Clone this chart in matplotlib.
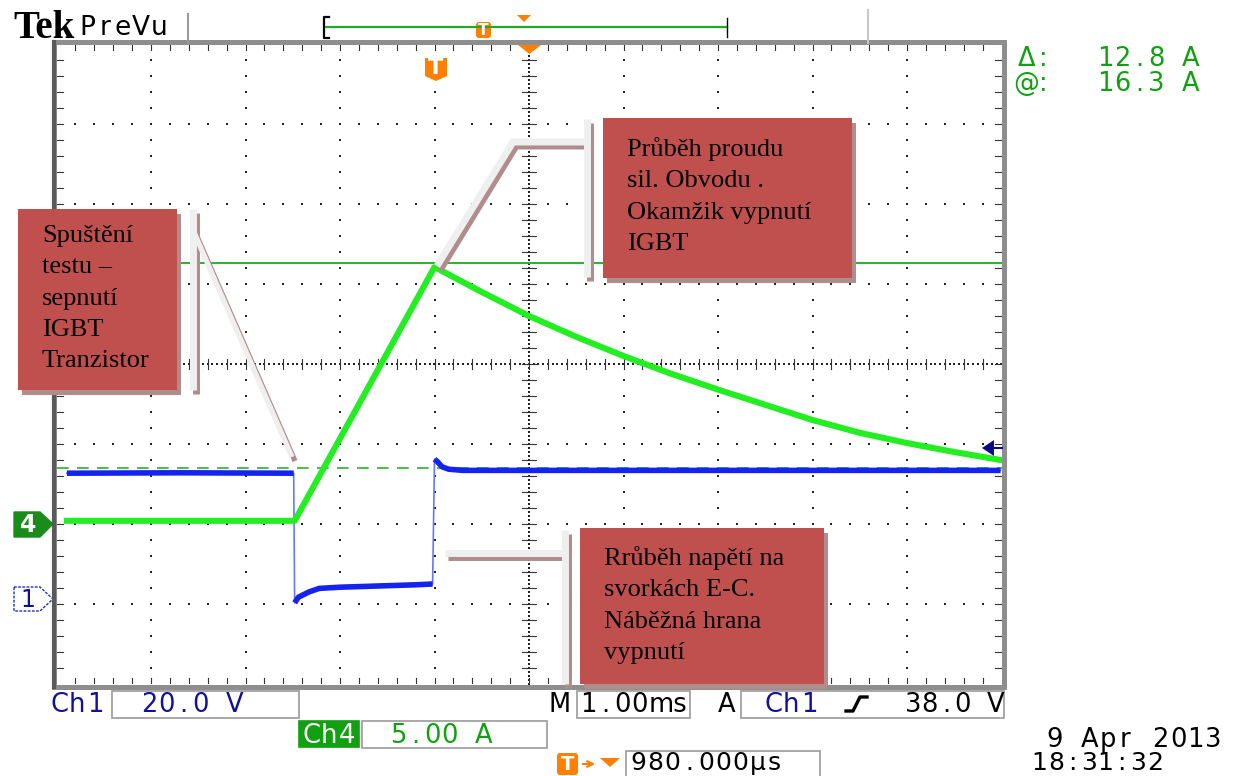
import numpy as np
import matplotlib.pyplot as plt
from matplotlib.patches import Rectangle, Polygon, FancyBboxPatch

W, H = 1242, 776

# scope settings (readouts at the bottom)
ch1_v_div = 20.0      # V/div
ch4_a_div = 5.00      # A/div
time_div = 1.00       # ms/div
ch1_gnd = -2.95       # div, Ch1 ground marker
ch4_gnd = -2.0        # div, Ch4 ground marker
trig_level = 38.0     # V on Ch1
cur_at = 16.3         # A, cursor readout "@"
cur_delta = 12.8      # A, cursor readout "delta"

# Ch1 - U_CE [V] vs t [ms], trigger at t = 0
u_off_t = [-3.89, -2.7, -1.49]
u_off_v = [31.7, 31.8, 31.7]
u_on_t = [-1.48, -1.44, -1.33, -1.22, -1.0, -0.6, -0.2, -0.02]
u_on_v = [-0.7, 0.7, 2.0, 2.9, 3.2, 3.5, 3.8, 4.0]
u_rec_t = [0.0, 0.03, 0.08, 0.15, 0.3, 1.5, 4.0, 5.99]
u_rec_v = [35.2, 34.6, 33.3, 32.7, 32.4, 32.4, 32.4, 32.4]

# Ch4 - I_C [A]
i_t = [-3.89, -2.5, -1.48, 0.0, 0.5, 1.0, 1.5, 2.0, 2.5, 3.0, 3.5, 4.0, 4.5, 5.0, 5.5, 5.99]
i_a = [0.2, 0.2, 0.2, 16.06, 14.5, 13.0, 11.7, 10.5, 9.4, 8.4, 7.45, 6.5, 5.7, 5.06, 4.5, 4.0]


def ch1(v):
    return np.asarray(v) / ch1_v_div + ch1_gnd


def ch4(a):
    return np.asarray(a) / ch4_a_div + ch4_gnd


fig = plt.figure(figsize=(W / 100, H / 100), dpi=100)
fig.patch.set_facecolor('white')

# graticule area: 10 x 8 divisions
ax = fig.add_axes([56.5 / W, (H - 684) / H, 945 / W, 640 / H])
ax.set_xlim(-4 * time_div, 6 * time_div)
ax.set_ylim(-4, 4)
ax.axis('off')

# graticule dots
gx, gy = [], []
steps_x = np.arange(-4, 6.001, 0.2)
steps_y = np.arange(-4, 4.001, 0.2)
for row in [-3, -2, -1, 1, 2, 3]:
    gx += list(steps_x[1:-1]); gy += [row] * (len(steps_x) - 2)
for col in [-3, -2, -1, 0, 2, 3, 4, 5]:
    gx += [col] * (len(steps_y) - 2); gy += list(steps_y[1:-1])
# centre cross, finer
fine_x = np.arange(-4, 6.001, 0.05)
fine_y = np.arange(-4, 4.001, 0.05)
gx += list(fine_x); gy += [0] * len(fine_x)
gx += [1] * len(fine_y); gy += list(fine_y)
ax.scatter(gx, gy, s=1.6, marker='s', color='#222222', lw=0, zorder=1)
# minor ticks on the centre cross and along the edges
for x in steps_x[1:-1]:
    ax.plot([x, x], [-0.06, 0.06], color='#333333', lw=0.8, zorder=1)
    ax.plot([x, x], [3.93, 4.0], color='#333333', lw=0.8, zorder=1)
    ax.plot([x, x], [-4.0, -3.93], color='#333333', lw=0.8, zorder=1)
for y in steps_y[1:-1]:
    ax.plot([0.93, 1.07], [y, y], color='#333333', lw=0.8, zorder=1)
    ax.plot([-4.0, -3.93], [y, y], color='#333333', lw=0.8, zorder=1)
    ax.plot([5.93, 6.0], [y, y], color='#333333', lw=0.8, zorder=1)

# cursors on Ch4
ax.axhline(ch4(cur_at), color='#2DB02D', lw=1.4, zorder=2)
ax.axhline(ch4(cur_at - cur_delta), color='#2DB02D', lw=1.2, ls=(0, (7, 5)), zorder=2)

# Ch1 trace - edges drawn faint, flat parts thick
all_t = u_off_t + u_on_t + u_rec_t
all_v = u_off_v + u_on_v + u_rec_v
ax.plot(all_t, ch1(all_v), color='#6677FF', lw=1.2, zorder=3)
for tt, vv in [(u_off_t, u_off_v), (u_on_t, u_on_v), (u_rec_t, u_rec_v)]:
    ax.plot(tt, ch1(vv), color='#1424EE', lw=4.0, solid_capstyle='butt', zorder=3)

# Ch4 trace
ax.plot(i_t, ch4(i_a), color='#22EE22', lw=4.4, solid_joinstyle='round', zorder=4)

# overlay in pixel coordinates for the scope chrome and call-outs
ov = fig.add_axes([0, 0, 1, 1], zorder=5)
ov.set_xlim(0, W)
ov.set_ylim(H, 0)
ov.axis('off')

# frame round the graticule
ov.add_patch(Rectangle((53.5, 41.5), 950.5, 645, fill=False, ec='#8E8E8E', lw=3.6))
ov.plot([53.5, 53.5], [41.5, 686.5], color='#5A5A5A', lw=3.0)


def scope_text(x, y, s, color='black', pitch=17.5, size=18.5, weight='normal'):
    for i, ch in enumerate(s):
        ov.text(x + (i + 0.5) * pitch, y, ch, color=color, fontsize=size,
                ha='center', va='baseline', family='DejaVu Sans', weight=weight)


# header
ov.text(13, 38, 'Tek', family='Liberation Serif', weight='bold', fontsize=28,
        va='baseline', ha='left', color='black')
scope_text(78, 35, 'PreVu', pitch=18, size=19)
ov.plot([188, 188], [14, 43], color='#9A9A9A', lw=1.5)
ov.plot([868, 868], [10, 43], color='#C8C8C8', lw=1.5)
ov.plot([329, 324, 324, 329], [17, 17, 38, 38], color='black', lw=1.6)
ov.plot([326, 727], [27, 27], color='#22AA22', lw=1.6)
ov.plot([727, 727], [18, 37], color='black', lw=1.0)
ov.add_patch(FancyBboxPatch((476, 22), 15, 16, boxstyle='round,pad=0,rounding_size=3',
                            fc='#FF7F00', ec='none'))
ov.text(483.5, 30.5, 'T', color='white', fontsize=11, weight='bold', ha='center', va='center')
ov.add_patch(Polygon([[517, 15], [531, 15], [524, 22]], closed=True, fc='#FF7F00', ec='none'))

# trigger position marker and centre marker
ov.add_patch(Polygon([[425, 58], [447, 58], [447, 76], [436, 81], [425, 76]], closed=True,
                     fc='#FF7F00', ec='none', joinstyle='round'))
ov.text(436, 68.5, 'T', color='white', fontsize=16, weight='bold', ha='center', va='center')
ov.add_patch(Polygon([[518, 45], [541, 45], [529.5, 54]], closed=True, fc='#FF7F00', ec='none'))

# cursor readouts
scope_text(1018, 66, '\u0394:', color='#10A010', pitch=17)
scope_text(1018, 91, '@:', color='#10A010', pitch=17)
scope_text(1097, 66, '12.8 A', color='#10A010', pitch=17)
scope_text(1097, 91, '16.3 A', color='#10A010', pitch=17)

# channel ground markers
ov.add_patch(Polygon([[14, 512], [40, 512], [53, 524], [40, 537], [14, 537]], closed=True,
                     fc='#1A8C1A', ec='#1A8C1A'))
ov.text(28, 525, '4', color='white', fontsize=17, weight='bold', ha='center', va='center')
ov.add_patch(Polygon([[14, 587], [40, 587], [53, 599], [40, 611], [14, 611]], closed=True,
                     fc='white', ec='#2030C0', lw=1.0, ls=(0, (2, 1))))
ov.text(28, 600, '1', color='#101090', fontsize=17, ha='center', va='center')

# Ch1 trigger level arrow on the right edge
y_trig = 364 - ch1(trig_level) * 80
ov.add_patch(Polygon([[982, y_trig], [994, y_trig - 8], [994, y_trig + 8]], closed=True,
                     fc='#0A0A8A', ec='none'))
ov.plot([992, 1002], [y_trig, y_trig], color='#0A0A8A', lw=1.5)


# bottom readouts
def box(x0, y0, x1, y1, fc='white', ec='#9A9A9A'):
    ov.add_patch(Rectangle((x0, y0), x1 - x0, y1 - y0, fc=fc, ec=ec, lw=1.2))


scope_text(50, 712, 'Ch1', color='#101099', pitch=18)
box(112, 691, 299, 718)
scope_text(141, 712, '20.0 V', color='#101099', pitch=17)
scope_text(548, 712, 'M', pitch=24)
box(577, 691, 690, 718)
scope_text(580, 712, '1.00', pitch=17)
ov.text(649, 712, 'ms', color='black', fontsize=18.5, family='DejaVu Sans',
        ha='left', va='baseline')
scope_text(716, 712, 'A', pitch=22)
box(741, 691, 1004, 718)
scope_text(764, 712, 'Ch1', color='#101099', pitch=18)
ov.plot([846, 853, 860, 867], [711, 711, 697, 697], color='black', lw=2.4)
scope_text(905, 712, '38.0 V', pitch=16.5)

box(299, 721, 359, 747, fc='#10A010', ec='#10A010')
scope_text(302, 743, 'Ch4', color='white', pitch=18)
box(362, 721, 547, 748)
scope_text(390, 743, '5.00 A', color='#10A010', pitch=17)

ov.add_patch(FancyBboxPatch((557, 753), 21, 22, boxstyle='round,pad=0,rounding_size=3',
                            fc='#FF7F00', ec='none'))
ov.text(567.5, 764, 'T', color='white', fontsize=14, weight='bold', ha='center', va='center')
ov.annotate('', xy=(598, 764), xytext=(580, 764),
            arrowprops=dict(arrowstyle='->', color='#FF7F00', lw=1.6))
ov.add_patch(Polygon([[600, 758], [620, 758], [610, 767]], closed=True, fc='#FF7F00', ec='none'))
box(626, 751, 820, 778)
scope_text(630, 770, '980.000\u00b5s', pitch=17, size=18)

scope_text(1046, 747, '9 Apr 2013', pitch=17.6)
scope_text(1031, 770, '18:31:32', pitch=16.5, size=18)

# call-outs
BOX_C = '#C0504D'
SHADOW_C = '#B08C8C'
LEAD_C = '#EFEFEF'


def note(x0, y0, x1, y1, text, tx, ty):
    ov.add_patch(Rectangle((x0 + 4, y0 + 5), x1 - x0, y1 - y0, fc=SHADOW_C, ec='none', zorder=3))
    ov.add_patch(Rectangle((x0, y0), x1 - x0, y1 - y0, fc=BOX_C, ec='none', zorder=4))
    ov.text(tx, ty, text, family='Liberation Serif', fontsize=19, color='black',
            ha='left', va='top', linespacing=1.55, zorder=5)


def lead(xs, ys, lw=5.0):
    ov.plot([x + 3 for x in xs], [y + 4 for y in ys], color=SHADOW_C, lw=lw,
            solid_capstyle='butt', solid_joinstyle='miter', zorder=3)
    ov.plot(xs, ys, color=LEAD_C, lw=lw, solid_capstyle='butt',
            solid_joinstyle='miter', zorder=3.5)


lead([193, 193], [209, 390])
lead([193, 292], [230, 457], lw=3.8)
note(18, 209, 177, 390, 'Spuštění\ntestu –\nsepnutí\nIGBT\nTranzistor', 42, 225)

lead([587, 587], [119, 277])
lead([587, 513, 437], [142, 142, 266])
note(603, 118, 852, 278, 'Průběh proudu\nsil. Obvodu .\nOkamžik vypnutí\nIGBT', 627, 137)

lead([565, 565], [530, 684])
lead([565, 445], [553, 553])
note(580, 528, 824, 684, 'Rrůběh napětí na\nsvorkách E-C.\nNáběžná hrana\nvypnutí', 604, 546)

fig.savefig('out.png', dpi=100, facecolor='white')
